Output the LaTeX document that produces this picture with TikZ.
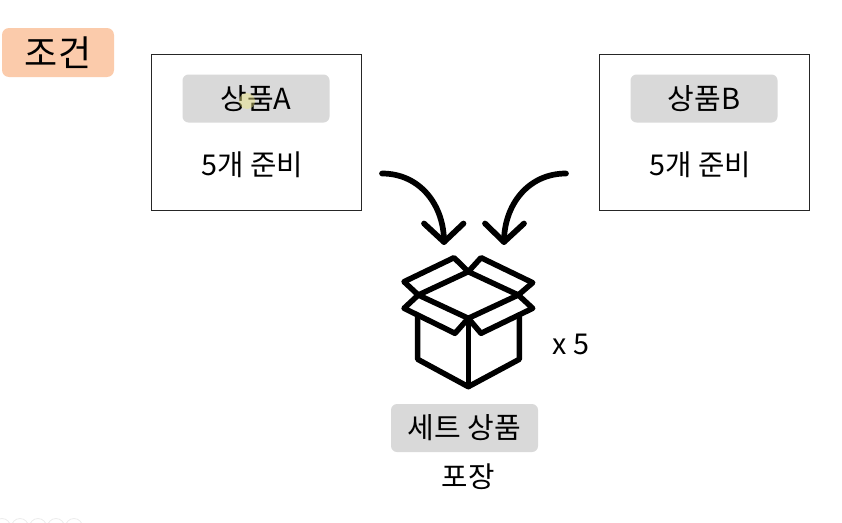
\documentclass[tikz,border=0pt]{standalone}
\usepackage{fontspec}
\setmainfont{Noto Sans CJK KR}
\definecolor{tagGray}{HTML}{D9D9D9}
\definecolor{tagPeach}{HTML}{FBCBAB}
\tikzset{
  x=1pt,y=-1pt,
  card/.style={draw=black!85,line width=1pt,fill=white,minimum width=210pt,minimum height=156pt,inner sep=0pt},
  tag/.style={fill=tagGray,rounded corners=6pt,inner sep=0pt,minimum height=48pt,font=\fontsize{29}{34}\selectfont},
  txtlabel/.style={font=\fontsize{28.7}{34}\selectfont,inner sep=0pt},
  icon/.style={line width=5.5pt,line join=round,line cap=round,draw=black},
  curvearrow/.style={line width=5.7pt,line cap=round,line join=round,draw=black},
}
\begin{document}
\begin{tikzpicture}
\useasboundingbox (0,0) rectangle (842,522);
\node[fill=tagPeach,rounded corners=7pt,minimum width=112pt,minimum height=49pt,inner sep=0pt,font=\fontsize{36}{42}\selectfont] (cond) at (58,52.5) {조건};
\node[card] (cardA) at (256.2,132.5) {};
\node[card] (cardB) at (704,132.5) {};
\node[tag,minimum width=147pt] (tagA) at (256,98.5) {상품A};
\node[tag,minimum width=147pt] (tagB) at (704,98.5) {상품B};
\fill[yellow!45!tagGray,opacity=.45] (247,101) circle (8pt);
\node[txtlabel] (qtyA) at (252.5,164.5) {5개 준비};
\node[txtlabel] (qtyB) at (700.5,164.5) {5개 준비};
\coordinate (sA) at (382,173.5);
\coordinate (eA) at (444,242);
\coordinate (sB) at (566,173.5);
\coordinate (eB) at (504,242);
\draw[curvearrow] (sA) .. controls (420,173.5) and (444,205) .. (eA);
\draw[curvearrow] (424,223.5) -- (eA) -- (463.5,223.5);
\draw[curvearrow] (sB) .. controls (528,173.5) and (504,205) .. (eB);
\draw[curvearrow] (485,223.5) -- (eB) -- (524,223.5);
% open box
\coordinate (top) at (468.3,271.7);
\coordinate (lft) at (418.3,295);
\coordinate (rgt) at (518.3,295);
\coordinate (mid) at (468.3,318.3);
\coordinate (bot) at (468.3,386.7);
\draw[icon] (top) -- (lft) -- (mid) -- (rgt) -- cycle;
\draw[icon] (lft) -- (404,281.7) -- (454,257.7) -- (top) -- (481,257.7) -- (532.7,282.7) -- (rgt);
\draw[icon] (lft) -- (404,308.3) -- (455,333.3) -- (mid) -- (481,333.3) -- (532.7,308.3) -- (rgt);
\draw[icon] (417.7,316.7) -- (417.7,359.3) -- (bot) -- (519.3,359.3) -- (519.3,316.7);
\draw[icon] (mid) -- (bot);
\node[txtlabel] (times) at (571,344) {x 5};
\node[tag,minimum width=147pt] (tagSet) at (464.5,428) {세트 상품};
\node[txtlabel] (pack) at (468,477) {포장};
\begin{scope}
\clip (0,516) rectangle (90,522);
\foreach \cx in {2,20,38,56,74} \draw[black!8,line width=0.8pt] (\cx,527) circle (8.5pt);
\end{scope}
\end{tikzpicture}
\end{document}
